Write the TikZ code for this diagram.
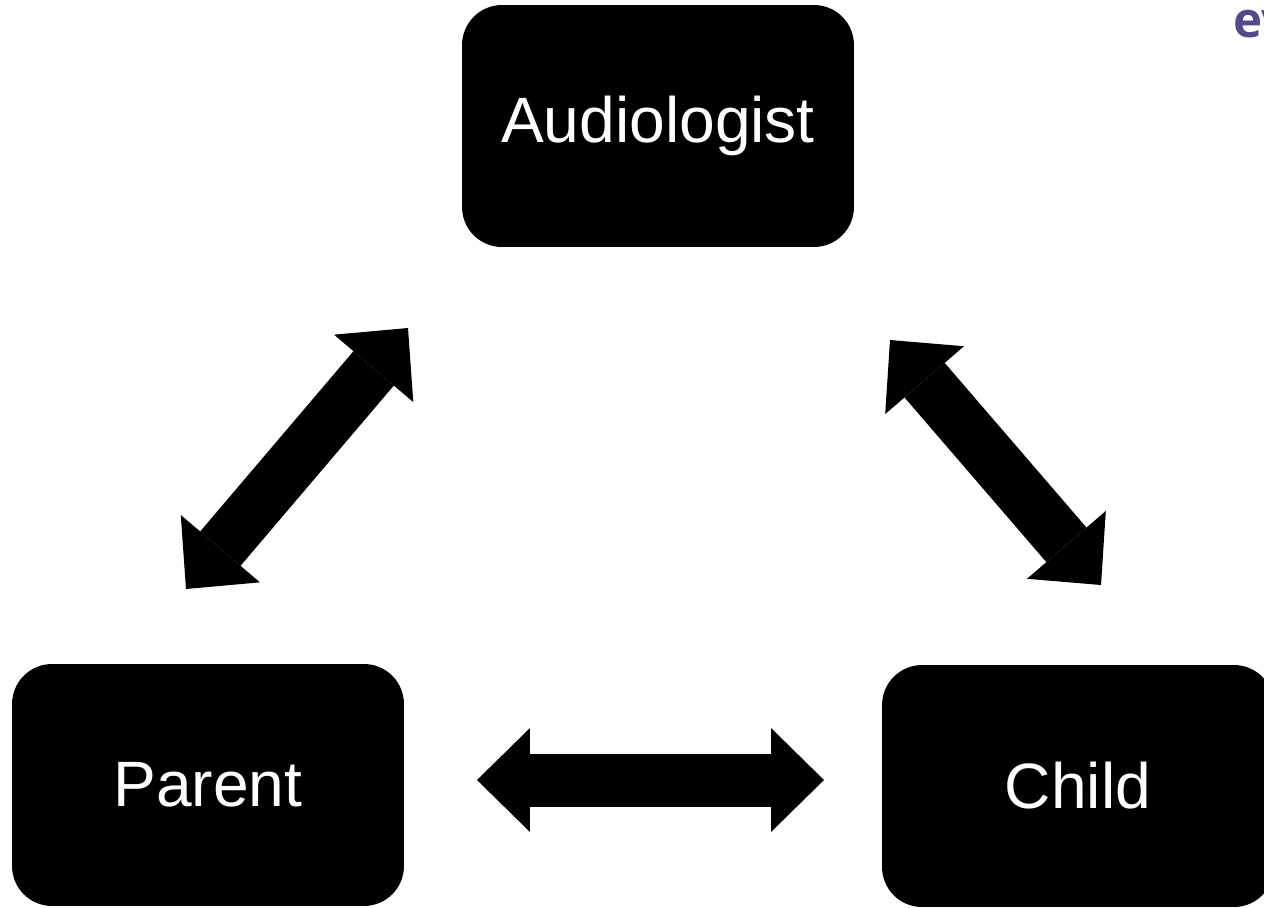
\documentclass[tikz,border=0pt]{standalone}
\usepackage{fontspec}
\setmainfont{Liberation Sans}
\newfontfamily\logofont{Open Sans}
\usetikzlibrary{arrows.meta}
\definecolor{logopurple}{RGB}{82,74,140}

\begin{document}
\begin{tikzpicture}[x=0.02cm, y=-0.02cm,
  role/.style={fill=black, text=white, rounded corners=0.8cm,
    minimum width=7.84cm, minimum height=4.84cm,
    font=\fontsize{36.5}{44}\selectfont},
  blockarrow/.style={line width=1.06cm,
    {Triangle[length=1.06cm, width=2.08cm, line width=0pt]}-{Triangle[length=1.06cm, width=2.08cm, line width=0pt]}},
  logo/.style={text=logopurple, font=\logofont\bfseries\fontsize{28}{30}\selectfont, inner sep=0pt}]
\useasboundingbox (0,0) rectangle (1264,907);

\node [role] (Audiologist) at (658,126) {Audiologist};
\node [role] (Parent) at (208,785) {Parent};
\node [role] (Child) at (1078,786) {Child};
\node [logo, anchor=base west] (ev) at (1233,37) {ev};

\coordinate (PA) at (186,589);
\coordinate (AP) at (408,328);
\coordinate (AC) at (890,340);
\coordinate (CA) at (1101,585);
\coordinate (PC) at (477,780);
\coordinate (CP) at (824,780);

\draw [blockarrow] (PA) -- (AP);
\draw [blockarrow] (AC) -- (CA);
\draw [blockarrow] (PC) -- (CP);

% every pair talks both ways
\end{tikzpicture}
\end{document}
